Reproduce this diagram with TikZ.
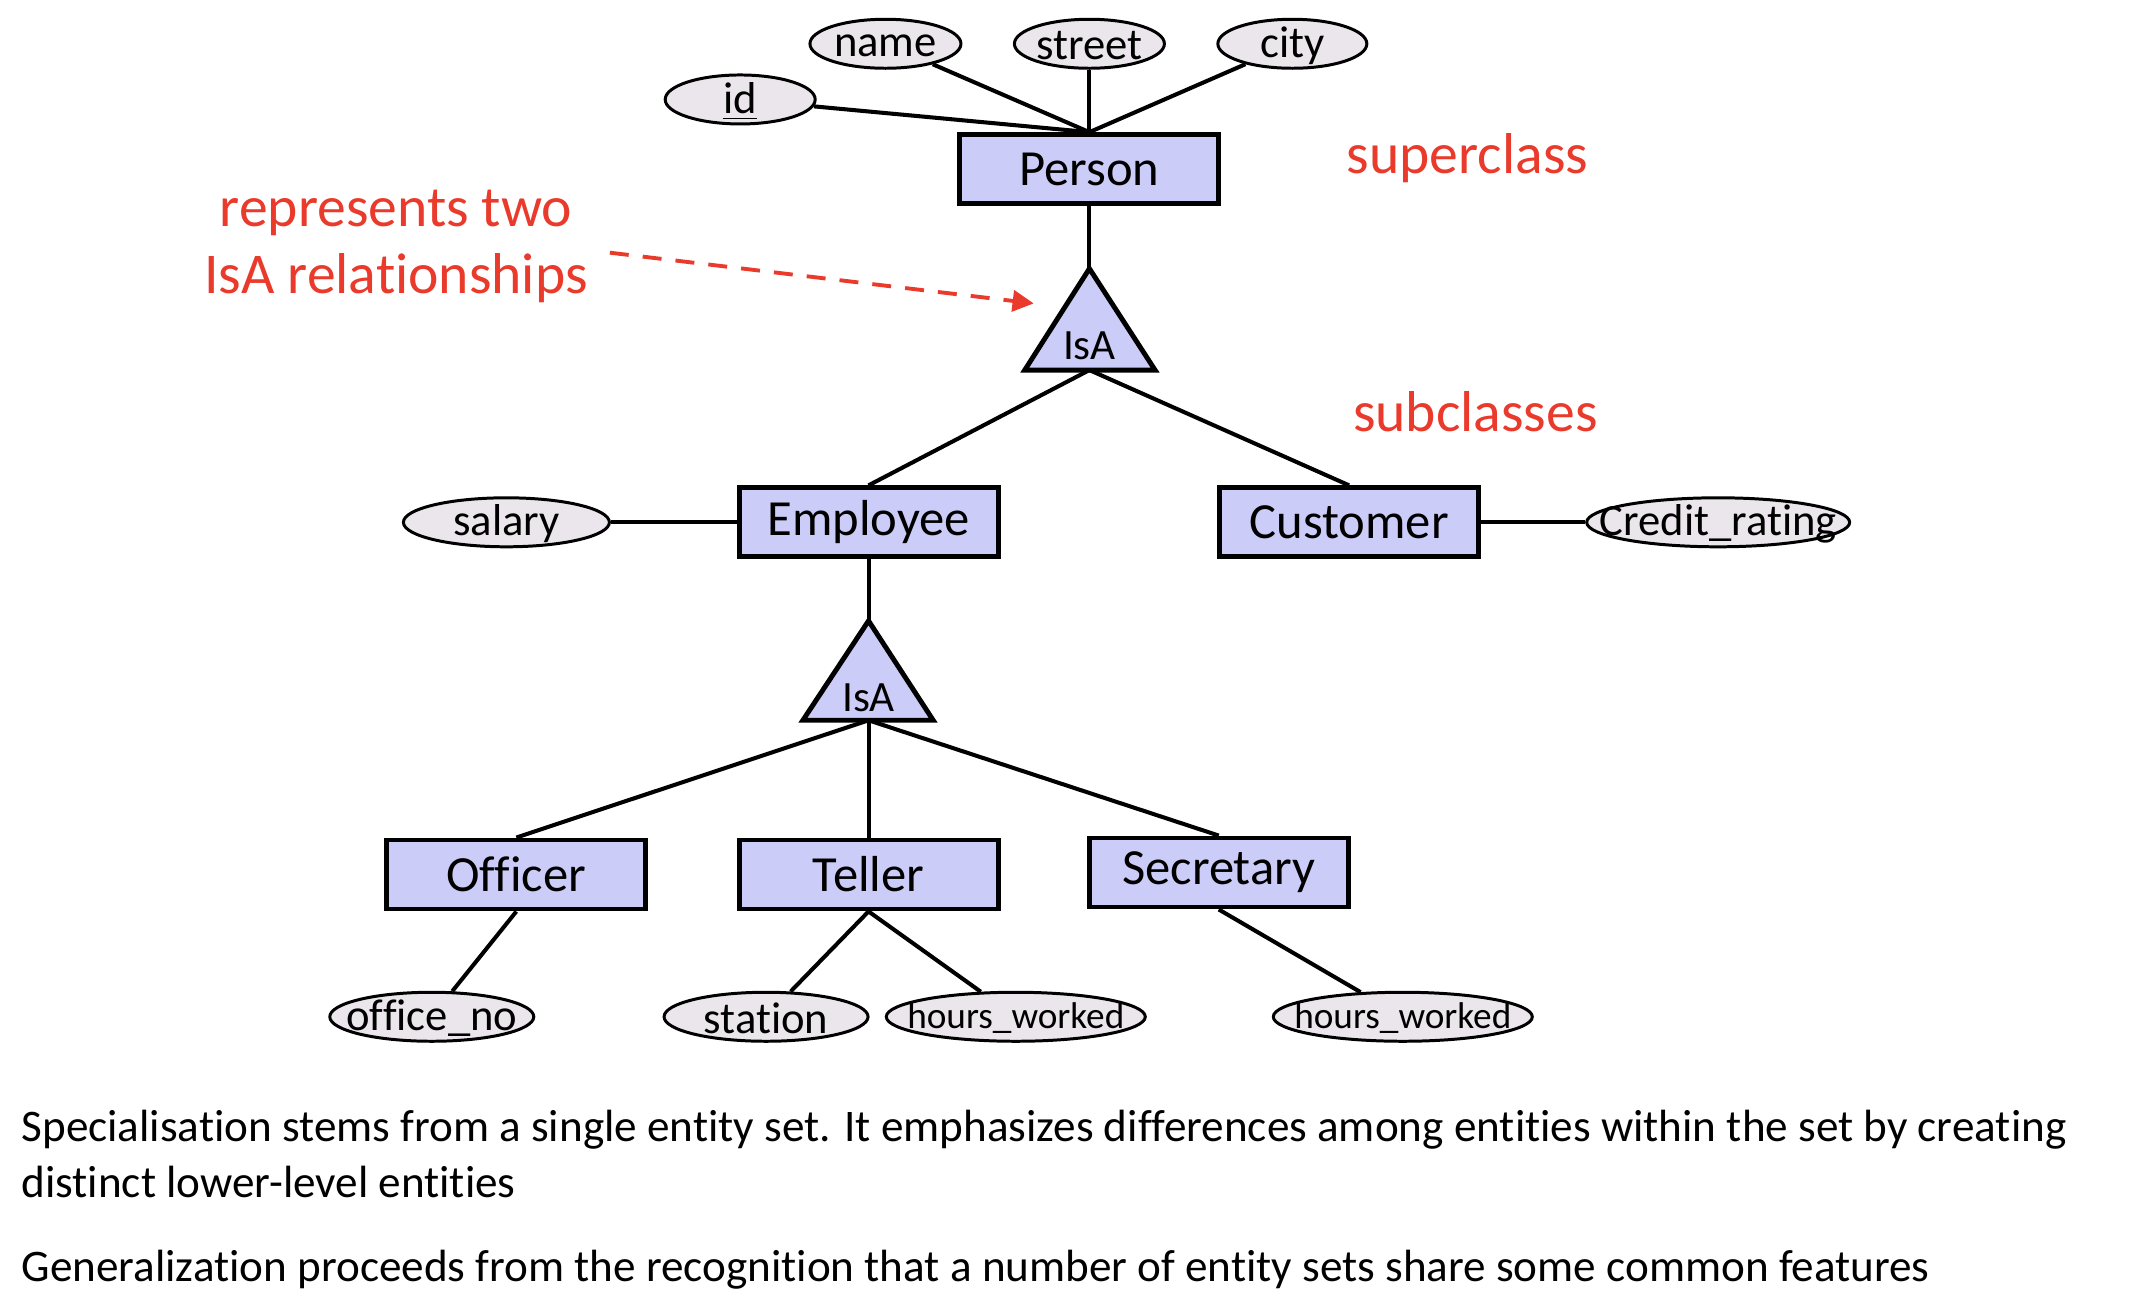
\documentclass[tikz,border=0pt]{standalone}
\usepackage{fontspec}
\setmainfont{Carlito}[Ligatures=NoCommon]
\usetikzlibrary{shapes.geometric,arrows.meta}
\definecolor{entfill}{RGB}{204,204,248}
\definecolor{attfill}{RGB}{235,230,235}
\definecolor{notered}{RGB}{233,58,43}
\tikzset{
  entity/.style={draw,line width=1.4pt,fill=entfill,minimum width=2.59cm,minimum height=0.69cm,inner sep=0pt,font=\fontsize{14.4}{17}\selectfont},
  attshape/.style={draw,ellipse,line width=0.85pt,fill=attfill,minimum height=0.49cm,inner sep=0pt},
  attrib/.style={attshape,label={[font=\fontsize{12.7}{15}\selectfont,yshift=-0.5pt]center:#1}},
  smallattrib/.style={attshape,label={[font=\fontsize{10.6}{13}\selectfont,yshift=-0.5pt]center:#1}},
  isatri/.style={draw,line width=1.4pt,fill=entfill},
  isatext/.style={font=\fontsize{12.3}{14}\selectfont,inner sep=0pt},
  link/.style={line width=1.15pt},
  note/.style={text=notered,font=\fontsize{16.4}{19}\selectfont,align=center},
  para/.style={anchor=west,inner sep=0pt,font=\fontsize{12.85}{15}\selectfont}
}
\begin{document}
\begin{tikzpicture}[x=0.00995cm,y=-0.00995cm]
  \useasboundingbox (0,0) rectangle (2151,1307);
  % entity sets
  \node[entity] (person) at (1095,170) {Person};
  \node[entity] (employee) at (873,525) {Employee};
  \node[entity] (customer) at (1356,525) {Customer};
  \node[entity] (officer) at (519,879) {Officer};
  \node[entity] (teller) at (873,879) {Teller};
  \node[entity] (secretary) at (1225,877) {Secretary};
  % attributes
  \node[attrib=\underline{id},minimum width=1.50cm] (id) at (744,100) {};
  \node[attrib=name,minimum width=1.51cm] (name) at (890,44) {};
  \node[attrib=street,minimum width=1.50cm] (street) at (1095,44) {};
  \node[attrib=city,minimum width=1.49cm] (city) at (1299,44) {};
  \node[attrib=salary,minimum width=2.06cm] (salary) at (509,525) {};
  \node[attrib=Credit\_rating,minimum width=2.63cm] (credit) at (1727,525) {};
  \node[attrib=office\_no,minimum width=2.04cm] (officeno) at (434,1022) {};
  \node[attrib=station,minimum width=2.04cm] (station) at (770,1022) {};
  \node[smallattrib=hours\_worked,minimum width=2.59cm] (hours1) at (1021,1022) {};
  \node[smallattrib=hours\_worked,minimum width=2.59cm] (hours2) at (1410,1022) {};
  % IsA triangles
  \draw[isatri] (1095,270) -- (1161,372) -- (1030,372) -- cycle;
  \draw[isatri] (873,624) -- (938,724) -- (807,724) -- cycle;
  \coordinate (isa1top) at (1095,270);
  \coordinate (isa1base) at (1095,372);
  \coordinate (isa2top) at (873,624);
  \coordinate (isa2base) at (873,724);
  \node[isatext] (isa1) at (1095,348) {IsA};
  \node[isatext] (isa2) at (873,701) {IsA};
  % connectors
  \begin{scope}[link]
    \draw (id) -- (person.north);
    \draw (name) -- (person.north);
    \draw (street) -- (person.north);
    \draw (city) -- (person.north);
    \draw (person) -- (isa1top);
    \draw (isa1base) -- (employee.north);
    \draw (isa1base) -- (customer.north);
    \draw (salary) -- (employee);
    \draw (customer) -- (credit);
    \draw (employee) -- (isa2top);
    \draw (isa2base) -- (officer.north);
    \draw (isa2base) -- (teller.north);
    \draw (isa2base) -- (secretary.north);
    \draw (officer.south) -- (officeno);
    \draw (teller.south) -- (station);
    \draw (teller.south) -- (hours1);
    \draw (secretary.south) -- (hours2);
  \end{scope}
  % notes
  \node[note] (super) at (1475,159) {superclass};
  \node[note] (sub) at (1483,414) {subclasses};
  \node[note] (twoisa) at (398,248) {represents two\\IsA relationships};
  \coordinate (arrowstart) at (613,254);
  \coordinate (arrowend) at (1039,305);
  \draw[notered,line width=1.1pt,dash pattern=on 5.4pt off 4pt,-{Triangle[length=6pt,width=6pt]}] (arrowstart) -- (arrowend);
  % text below
  \node[para] (spec1) at (21,1136) {Specialisation stems from a single entity set. It emphasizes differences among entities within the set by creating};
  \node[para] (spec2) at (21,1188) {distinct lower-level entities};
  \node[para] (gen) at (21,1276) {Generalization proceeds from the recognition that a number of entity sets share some common features};
\end{tikzpicture}
\end{document}
